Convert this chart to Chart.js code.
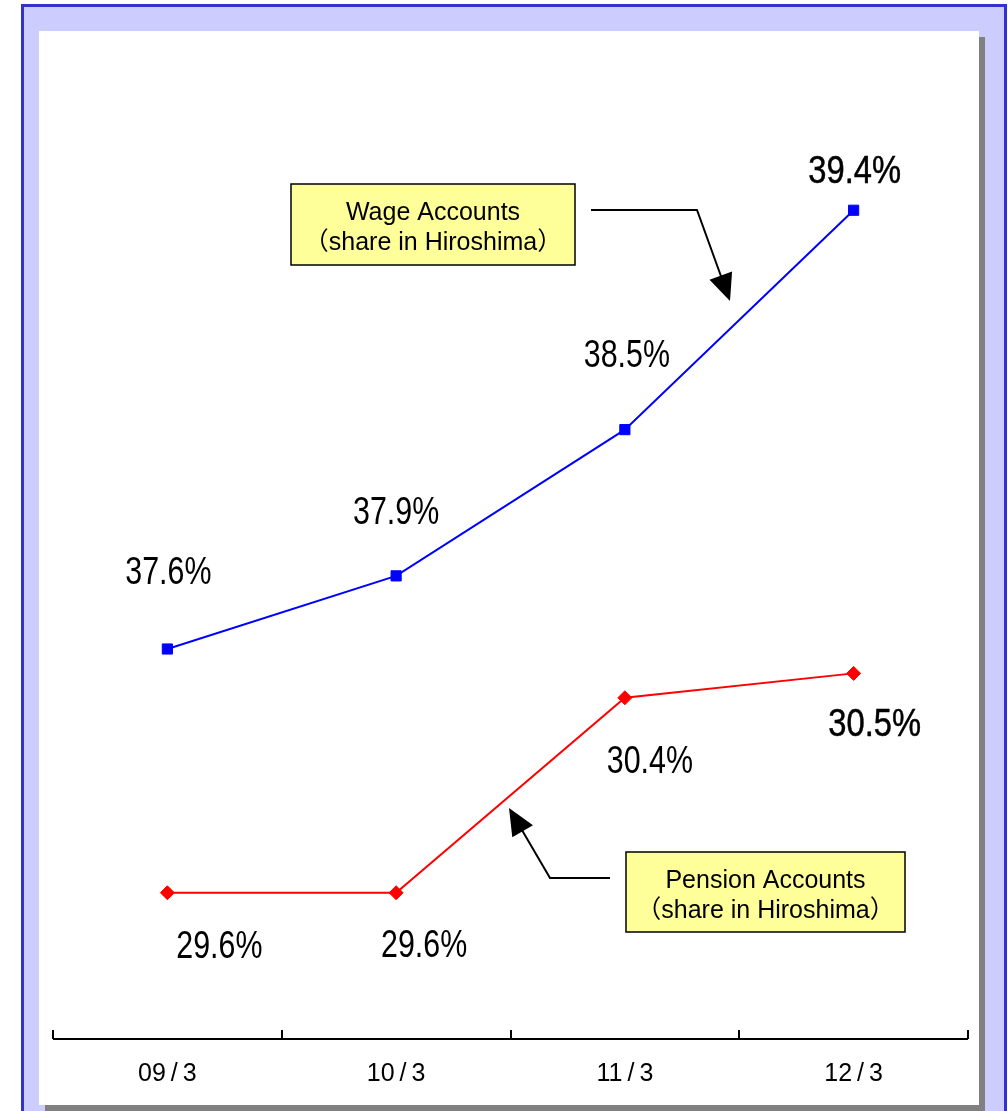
<!DOCTYPE html>
<html><head><meta charset="utf-8">
<script src="https://cdn.jsdelivr.net/npm/chart.js@4.4.1/dist/chart.umd.min.js"></script>
<style>html,body{margin:0;padding:0;background:#fff;overflow:hidden}canvas{display:block}</style>
</head><body><canvas id="c" width="1008" height="1111"></canvas>
<script>
// ---- data ----
const categories = ['09/3', '10/3', '11/3', '12/3'];
const wageShare = [37.6, 37.9, 38.5, 39.4];
const pensionShare = [29.6, 29.6, 30.4, 30.5];
const wageLabels = ['37.6%', '37.9%', '38.5%', '39.4%'];
const pensionLabels = ['29.6%', '29.6%', '30.4%', '30.5%'];
const wageTitle = ['Wage Accounts', '（share in Hiroshima）'];
const pensionTitle = ['Pension Accounts', '（share in Hiroshima）'];

// ---- label placement (style, not data) ----
const wageOffsets = [[1, -79], [0, -65], [2, -76], [1, -41]];
const pensionOffsets = [[52, 52], [28, 51], [25, 62], [21, 49]];
const emphasized = [false, false, false, true];

const LATIN = '"Liberation Sans", Arial, "Noto Sans CJK JP", sans-serif';

const backgroundPlugin = {
  id: 'bg',
  beforeDraw(chart) {
    const ctx = chart.ctx;
    ctx.save();
    ctx.fillStyle = '#ffffff';
    ctx.fillRect(0, 0, 1008, 1111);
    ctx.fillStyle = '#ccccff';
    ctx.fillRect(22, 5, 984, 1106);
    ctx.strokeStyle = '#3333cc';
    ctx.lineWidth = 3;
    ctx.beginPath();
    ctx.moveTo(22.5, 1111); ctx.lineTo(22.5, 5.5); ctx.lineTo(1005.5, 5.5); ctx.lineTo(1005.5, 1111);
    ctx.stroke();
    ctx.fillStyle = '#808080';
    ctx.fillRect(979, 37, 6, 1074);
    ctx.fillRect(45, 1105, 940, 6);
    ctx.fillStyle = '#ffffff';
    ctx.fillRect(39, 31, 940, 1074);
    ctx.restore();
  }
};

function arrow(ctx, pts, headLen, headHalf) {
  const n = pts.length;
  const [tx, ty] = pts[n - 1];
  const [px, py] = pts[n - 2];
  const dx = tx - px, dy = ty - py;
  const L = Math.hypot(dx, dy);
  const ux = dx / L, uy = dy / L;
  const bx = tx - ux * headLen, by = ty - uy * headLen;
  ctx.beginPath();
  ctx.moveTo(pts[0][0], pts[0][1]);
  for (let i = 1; i < n - 1; i++) ctx.lineTo(pts[i][0], pts[i][1]);
  ctx.lineTo(bx + ux * 2, by + uy * 2);
  ctx.stroke();
  ctx.beginPath();
  ctx.moveTo(tx, ty);
  ctx.lineTo(bx - uy * headHalf, by + ux * headHalf);
  ctx.lineTo(bx + uy * headHalf, by - ux * headHalf);
  ctx.closePath();
  ctx.fill();
}

function callout(ctx, x, y, w, h, lines) {
  ctx.fillStyle = '#ffff99';
  ctx.fillRect(x, y, w, h);
  ctx.strokeStyle = '#000';
  ctx.lineWidth = 1.5;
  ctx.strokeRect(x, y, w, h);
  ctx.fillStyle = '#000';
  ctx.font = '25px ' + LATIN;
  ctx.textAlign = 'center';
  ctx.textBaseline = 'alphabetic';
  const cx = x + w / 2;
  ctx.fillText(lines[0], cx, y + 27 + 9);
  ctx.fillText(lines[1], cx, y + 57 + 9);
}

const overlayPlugin = {
  id: 'overlay',
  afterDraw(chart) {
    const ctx = chart.ctx;
    const xs = chart.scales.x;
    const area = chart.chartArea;
    ctx.save();
    // axis line with inward ticks at category boundaries
    const step = xs.getPixelForValue(1) - xs.getPixelForValue(0);
    const y0 = area.bottom;
    ctx.strokeStyle = '#000';
    ctx.lineWidth = 2;
    ctx.beginPath();
    const left = xs.getPixelForValue(0) - step / 2;
    const right = xs.getPixelForValue(categories.length - 1) + step / 2;
    ctx.moveTo(left, y0); ctx.lineTo(right, y0);
    for (let i = 0; i <= categories.length; i++) {
      const bx = Math.round(left + i * step);
      ctx.moveTo(bx, y0); ctx.lineTo(bx, y0 - 9);
    }
    ctx.stroke();

    // data labels
    const drawLabels = (dsIndex, labels, offsets) => {
      const meta = chart.getDatasetMeta(dsIndex);
      meta.data.forEach((pt, i) => {
        const cx = pt.x + offsets[i][0];
        const cy = pt.y + offsets[i][1];
        const size = 38;
        ctx.save();
        ctx.translate(cx, cy + 0.358 * size);
        ctx.scale(emphasized[i] ? 0.86 : 0.8, 1);
        ctx.font = size + 'px ' + LATIN;
        ctx.textAlign = 'center';
        ctx.textBaseline = 'alphabetic';
        ctx.fillStyle = '#000';
        ctx.fillText(labels[i], 0, 0);
        if (emphasized[i]) {
          ctx.strokeStyle = '#000';
          ctx.lineWidth = 0.5;
          ctx.strokeText(labels[i], 0, 0);
        }
        ctx.restore();
      });
    };
    drawLabels(0, wageLabels, wageOffsets);
    drawLabels(1, pensionLabels, pensionOffsets);

    // callouts
    ctx.strokeStyle = '#000';
    ctx.fillStyle = '#000';
    ctx.lineWidth = 2;
    arrow(ctx, [[591, 210], [697, 210], [730, 301]], 27, 12);
    arrow(ctx, [[610, 878], [550, 878], [509, 808]], 27, 12);
    callout(ctx, 291, 184, 284, 81, wageTitle);
    callout(ctx, 626, 852, 279, 80, pensionTitle);
    ctx.restore();
  }
};

new Chart(document.getElementById('c'), {
  type: 'line',
  data: {
    labels: categories,
    datasets: [
      {
        label: 'Wage Accounts',
        data: wageShare,
        yAxisID: 'y',
        borderColor: '#0000ff',
        backgroundColor: '#0000ff',
        borderWidth: 2,
        pointStyle: 'rect',
        pointRadius: 7.2,
        pointBorderWidth: 1,
        pointBackgroundColor: '#0000ff',
        pointBorderColor: '#0000ff',
        tension: 0
      },
      {
        label: 'Pension Accounts',
        data: pensionShare,
        yAxisID: 'y2',
        borderColor: '#ff0000',
        backgroundColor: '#ff0000',
        borderWidth: 2,
        pointStyle: 'rectRot',
        pointRadius: 7,
        pointBorderWidth: 1,
        pointBackgroundColor: '#ff0000',
        pointBorderColor: '#ff0000',
        tension: 0
      }
    ]
  },
  options: {
    responsive: false,
    animation: false,
    devicePixelRatio: 1,
    layout: { padding: { left: 53, right: 40, top: 64, bottom: 0 } },
    plugins: { legend: { display: false }, tooltip: { enabled: false }, title: { display: false } },
    scales: {
      x: {
        offset: true,
        grid: { display: false, drawTicks: false },
        border: { display: false },
        ticks: {
          color: '#000',
          font: { size: 25, family: LATIN },
          padding: 20,
          maxRotation: 0,
          autoSkip: false,
          callback: (v, i) => categories[i].replace('/', '\u2009/\u2009')
        },
        afterFit: s => { s.height = 72; }
      },
      y: { display: false, min: 36, max: 40.0 },
      y2: { display: false, min: 29, max: 33.0 }
    }
  },
  plugins: [backgroundPlugin, overlayPlugin]
});
</script>
</body></html>
